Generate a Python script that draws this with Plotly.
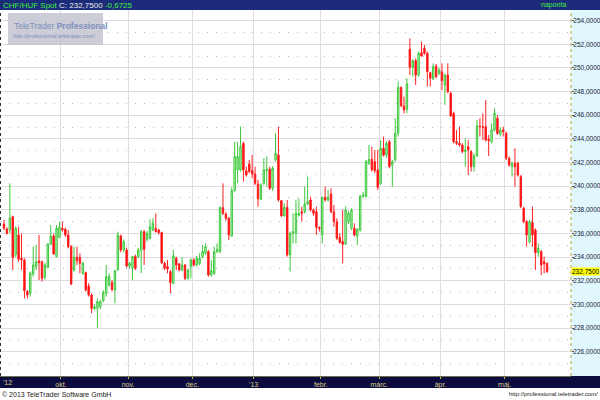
import plotly.graph_objects as go

# ---- data (CHF/HUF daily candles) ----
open_ = [236.80,236.38,236.30,237.42,234.20,235.87,233.90,233.75,231.10,230.93,
232.57,233.20,233.67,233.61,232.29,233.13,235.08,235.78,234.04,235.67,
236.43,236.35,235.87,234.88,232.91,233.98,233.98,232.63,232.68,231.55,
230.79,229.66,229.66,229.80,230.31,230.93,231.64,231.84,231.22,232.91,
235.78,234.60,234.60,233.25,233.05,234.04,234.04,234.60,236.15,235.50,
235.59,236.29,236.43,236.29,236.07,233.47,233.20,232.77,231.78,233.90,
233.42,232.91,233.33,232.20,233.19,233.75,233.33,233.47,234.04,234.32,
234.46,232.48,232.63,234.46,234.46,238.18,237.64,237.28,235.78,239.62,
241.37,241.37,243.62,241.31,241.87,241.31,241.03,240.18,238.89,240.24,
241.31,241.43,239.82,242.21,242.64,238.77,237.48,238.21,234.18,236.01,
236.01,237.56,237.84,237.84,238.49,238.83,237.98,237.84,236.52,235.87,
239.06,238.83,239.34,237.84,236.99,235.67,235.31,235.11,237.00,236.43,
236.43,235.78,236.29,239.17,239.11,241.93,242.27,242.07,241.37,240.24,
243.20,242.63,243.76,241.79,242.21,244.47,248.36,246.78,246.50,251.57,
250.05,250.62,249.40,251.29,251.66,251.24,249.60,249.12,250.16,249.54,
249.68,248.56,249.40,247.85,246.16,243.76,243.62,243.48,242.92,243.34,
242.92,241.65,242.55,245.09,245.03,245.03,243.96,243.76,244.75,245.74,
244.41,244.75,244.47,242.36,241.65,241.93,241.93,240.80,238.13,237.00,
235.30,236.91,236.29,234.37,234.46,233.61,233.47]
high = [237.14,236.50,240.24,237.50,236.60,236.57,236.00,233.90,231.20,232.77,
234.88,235.02,235.87,233.70,233.50,235.16,236.71,236.00,236.71,237.00,
237.00,236.50,236.29,235.02,234.88,234.88,234.32,233.60,232.77,231.78,
230.93,230.00,230.51,230.40,231.20,233.33,232.63,232.06,232.91,236.15,
235.90,235.50,234.80,233.60,234.10,234.20,234.80,236.29,236.29,236.20,
237.20,237.28,237.70,236.40,236.15,233.60,233.75,232.91,234.60,234.04,
233.50,233.98,233.40,233.00,233.90,233.90,234.10,234.32,235.02,235.16,
234.60,233.75,234.88,235.16,238.27,240.24,237.80,237.40,239.90,243.76,
243.76,245.03,243.76,241.65,242.21,242.64,241.65,240.52,240.24,242.36,
242.50,241.65,241.70,244.47,245.03,238.83,238.55,238.83,236.15,237.70,
238.83,238.97,238.27,239.96,240.80,239.11,238.10,238.27,236.57,239.11,
239.96,239.68,239.82,238.41,237.28,236.01,237.98,238.27,237.90,238.12,
236.86,236.43,239.25,239.50,242.21,243.48,243.34,243.06,243.06,243.90,
244.19,243.80,243.90,242.21,245.74,248.84,248.42,247.57,249.12,252.50,
250.73,250.81,251.38,252.22,251.94,251.38,249.68,250.39,250.33,250.00,
250.39,249.54,250.39,247.99,246.30,244.75,245.03,243.62,244.04,243.90,
243.06,242.78,245.60,245.74,246.16,247.29,244.33,245.31,246.58,246.02,
245.00,245.03,244.61,242.50,242.07,243.20,242.07,240.94,238.27,237.14,
237.14,238.27,236.43,235.16,234.60,234.04,233.53]
low = [236.29,235.90,236.00,232.90,234.00,233.60,232.90,230.50,230.50,230.65,
232.34,232.90,232.06,231.92,232.10,233.05,235.02,234.18,234.00,235.60,
236.15,235.70,234.74,231.64,232.77,233.33,232.63,232.50,231.08,230.65,
229.24,229.50,227.97,229.60,230.20,230.65,231.50,231.08,230.09,232.85,
234.40,234.40,233.10,233.00,232.06,232.90,233.90,232.63,233.33,235.30,
235.50,236.20,236.10,235.90,233.40,232.90,232.63,230.93,231.70,232.91,
232.80,232.80,232.06,232.10,232.20,233.20,233.20,233.30,233.90,234.20,
232.34,232.34,232.48,234.32,234.32,237.56,237.10,235.45,235.73,239.53,
240.24,241.23,240.38,240.80,241.09,240.66,240.10,238.27,238.83,240.10,
239.96,239.68,239.60,242.07,238.69,237.42,237.42,234.04,232.77,235.16,
235.16,237.42,237.00,237.70,238.41,237.84,237.50,235.87,236.15,235.16,
238.69,238.70,237.70,236.57,235.45,235.16,233.47,235.02,236.80,236.29,
235.73,235.02,236.15,239.00,239.06,241.79,241.23,241.09,239.68,240.10,
242.50,242.40,241.51,239.96,242.07,244.19,246.72,246.16,246.16,249.40,
249.26,248.56,249.26,250.95,251.10,248.42,248.42,248.98,249.12,249.40,
248.13,246.87,247.85,245.88,243.62,243.48,243.34,242.78,241.65,240.94,
241.23,241.23,242.50,244.19,243.90,243.76,242.55,243.62,244.61,244.33,
244.20,244.19,242.21,241.65,240.80,239.96,240.80,238.13,236.86,234.88,
235.16,234.88,232.91,234.04,232.48,232.63,232.68]
close = [236.43,236.01,237.28,233.98,236.43,233.81,233.76,231.16,230.80,232.63,
233.33,233.61,233.53,232.20,233.33,235.11,235.78,234.26,236.43,236.52,
236.29,235.87,234.88,231.72,233.98,233.70,233.47,233.47,231.22,230.79,
229.66,229.80,230.23,230.23,230.99,232.34,232.34,231.27,232.85,235.87,
234.60,235.30,233.25,233.47,234.04,233.05,234.60,236.15,234.66,236.00,
236.57,236.86,236.15,236.07,233.53,233.05,233.00,231.84,234.10,233.33,
232.91,233.33,232.20,232.91,233.75,233.33,233.90,233.90,234.46,234.88,
232.48,232.85,234.46,234.66,238.21,237.70,237.28,235.87,239.62,242.50,
242.50,243.34,241.37,240.94,241.23,241.03,240.24,238.92,240.10,241.37,
241.43,239.82,241.51,242.78,238.83,237.48,238.21,234.18,236.01,236.15,
237.70,237.70,237.70,238.49,238.69,237.98,237.70,236.52,236.43,239.06,
238.83,239.06,237.84,236.99,235.59,235.22,235.08,237.98,237.70,237.98,
235.87,236.35,239.17,239.25,242.07,242.27,241.37,241.31,239.90,243.20,
242.63,243.62,241.65,242.07,244.47,248.36,246.78,246.44,248.64,250.05,
250.62,249.40,251.24,251.01,251.24,249.68,249.12,250.11,249.26,249.82,
248.92,249.40,247.99,245.93,243.76,243.62,243.48,242.92,243.06,243.06,
241.65,242.55,245.09,245.03,244.97,243.90,243.85,244.75,246.16,244.47,
244.75,244.61,242.36,241.79,241.93,241.65,240.94,238.27,237.00,235.87,
237.00,235.87,234.37,234.74,233.33,233.42,232.75]
day_index = list(range(len(close)))

month_pos = [19.5, 42.5, 64.5, 85.5, 108.5, 128.5, 149.5, 171.5]
month_labels = ["okt.", "nov.", "dec.", "'13", "febr.", "márc.", "ápr.", "máj."]
price_ticks = [226, 228, 230, 232, 234, 236, 238, 240, 242, 244, 246, 248, 250, 252, 254]
last_close = 232.75
change = -0.6725

W, H = 600, 400
PL, PR, PT, PB = 0, 571, 10, 376
def px(x):
    return (x - PL) / (PR - PL)
def py(y):
    return (PB - y) / (PB - PT)

fig = go.Figure(go.Candlestick(
    x=day_index, open=open_, high=high, low=low, close=close,
    increasing=dict(line=dict(color="#3cc83c", width=1), fillcolor="#c6f3c6"),
    decreasing=dict(line=dict(color="#ff2020", width=1), fillcolor="#ff0000"),
    whiskerwidth=0, showlegend=False, hoverinfo="skip"))

FONT = "Liberation Sans"
fig.update_layout(
    width=W, height=H, margin=dict(l=PL, r=W - PR, t=PT, b=H - PB),
    paper_bgcolor="white", plot_bgcolor="white", separators=",.",
    font=dict(family=FONT, size=7, color="#1a1a3a"),
    xaxis=dict(range=[-1.37, 194.2], rangeslider=dict(visible=False),
               tickmode="array", tickvals=month_pos, ticktext=month_labels,
               showgrid=True, gridcolor="#e4dbe2", gridwidth=1,
               ticks="outside", ticklen=2, tickcolor="#c8b850",
               tickfont=dict(size=7, color="#d8d08c", family=FONT),
               zeroline=False, showline=False, fixedrange=True),
    yaxis=dict(side="right", range=[223.94, 254.9],
               tickmode="array", tickvals=price_ticks,
               tickformat=".4f", showgrid=True, gridcolor="#e4dbe2", gridwidth=1,
               minor=dict(dtick=1, tick0=0, showgrid=True, gridcolor="#b8b8b8",
                          griddash="1px,8px", gridwidth=1),
               ticks="outside", ticklen=2, tickcolor="#555555",
               ticklabelstandoff=-2,
               tickfont=dict(size=6.5, color="#1a1a3a", family=FONT),
               zeroline=False, showline=False, fixedrange=True),
)

shapes = [
    dict(type="rect", xref="paper", yref="paper", x0=1, x1=W / PR, y0=0, y1=1,
         fillcolor="#e0f7fd", line=dict(width=0), layer="below"),
    dict(type="rect", xref="paper", yref="paper", x0=0, x1=W / PR, y0=py(388), y1=0,
         fillcolor="#0c0c3e", line=dict(width=0), layer="below"),
    dict(type="line", xref="paper", yref="paper", x0=0, x1=1, y0=py(376.5), y1=py(376.5),
         line=dict(color="#6e6e50", width=1)),
    dict(type="rect", xref="paper", yref="paper", x0=0, x1=W / PR, y0=1, y1=py(0),
         fillcolor="#1c2a7a", line=dict(width=0), layer="below"),
    dict(type="line", xref="paper", yref="paper", x0=1, x1=1, y0=0, y1=1,
         line=dict(color="#b8a040", width=1, dash="dot")),
    dict(type="line", xref="paper", yref="paper", x0=px(0.5), x1=px(0.5), y0=0, y1=1,
         line=dict(color="#333333", width=1, dash="dot")),
    dict(type="rect", xref="paper", yref="paper", x0=px(8), x1=px(103), y0=py(45), y1=py(13),
         fillcolor="#c6c8d2", opacity=0.9, line=dict(width=0), layer="above"),
]
fig.update_layout(shapes=shapes)

chg_txt = ("%.4f" % change).replace(".", ",")
last_txt = ("%.4f" % last_close).replace(".", ",")
ann = [
    dict(x=px(1), y=py(5), xref="paper", yref="paper", xanchor="left", yanchor="middle",
         showarrow=False, font=dict(size=8, family=FONT),
         text=('<span style="color:#3cf03c">CHF/HUF Spot</span> '
               '<span style="color:#e8f0e8">C: ' + last_txt + '</span> '
               '<span style="color:#3cf03c">' + chg_txt + '</span>')),
    dict(x=px(568), y=py(5), xref="paper", yref="paper", xanchor="right", yanchor="middle",
         showarrow=False, text="naponta", font=dict(size=7, color="#3cf03c", family=FONT)),
    dict(x=1, y=last_close, xref="paper", yref="y", xanchor="left", yanchor="middle",
         showarrow=False, text=last_txt, bgcolor="#ffff00", borderpad=0,
         font=dict(size=6.5, color="#000000", family=FONT)),
    dict(x=px(1), y=py(382), xref="paper", yref="paper", xanchor="left", yanchor="middle",
         showarrow=False, text="'12", font=dict(size=7, color="#d8d08c", family=FONT)),
    dict(x=px(12), y=py(26), xref="paper", yref="paper", xanchor="left", yanchor="middle",
         showarrow=False, text="TeleTrader <b>Professional</b>",
         font=dict(size=8.5, color="#7d8fbf", family=FONT)),
    dict(x=px(97), y=py(36), xref="paper", yref="paper", xanchor="right", yanchor="middle",
         showarrow=False, text="<i>http://professional.teletrader.com/</i>",
         font=dict(size=5.5, color="#7d8fbf", family=FONT)),
    dict(x=px(0), y=py(394), xref="paper", yref="paper", xanchor="left", yanchor="middle",
         showarrow=False, text="© 2013 TeleTrader Software GmbH",
         font=dict(size=7, color="#222222", family=FONT)),
    dict(x=W / PR, y=py(394), xref="paper", yref="paper", xanchor="right", yanchor="middle",
         showarrow=False, text="http://professional.teletrader.com/",
         font=dict(size=6, color="#222222", family=FONT)),
]
fig.update_layout(annotations=ann)

fig.write_html("out.html", config={"displayModeBar": False},
               post_script="document.body.style.margin='0';document.body.style.overflow='hidden';")
